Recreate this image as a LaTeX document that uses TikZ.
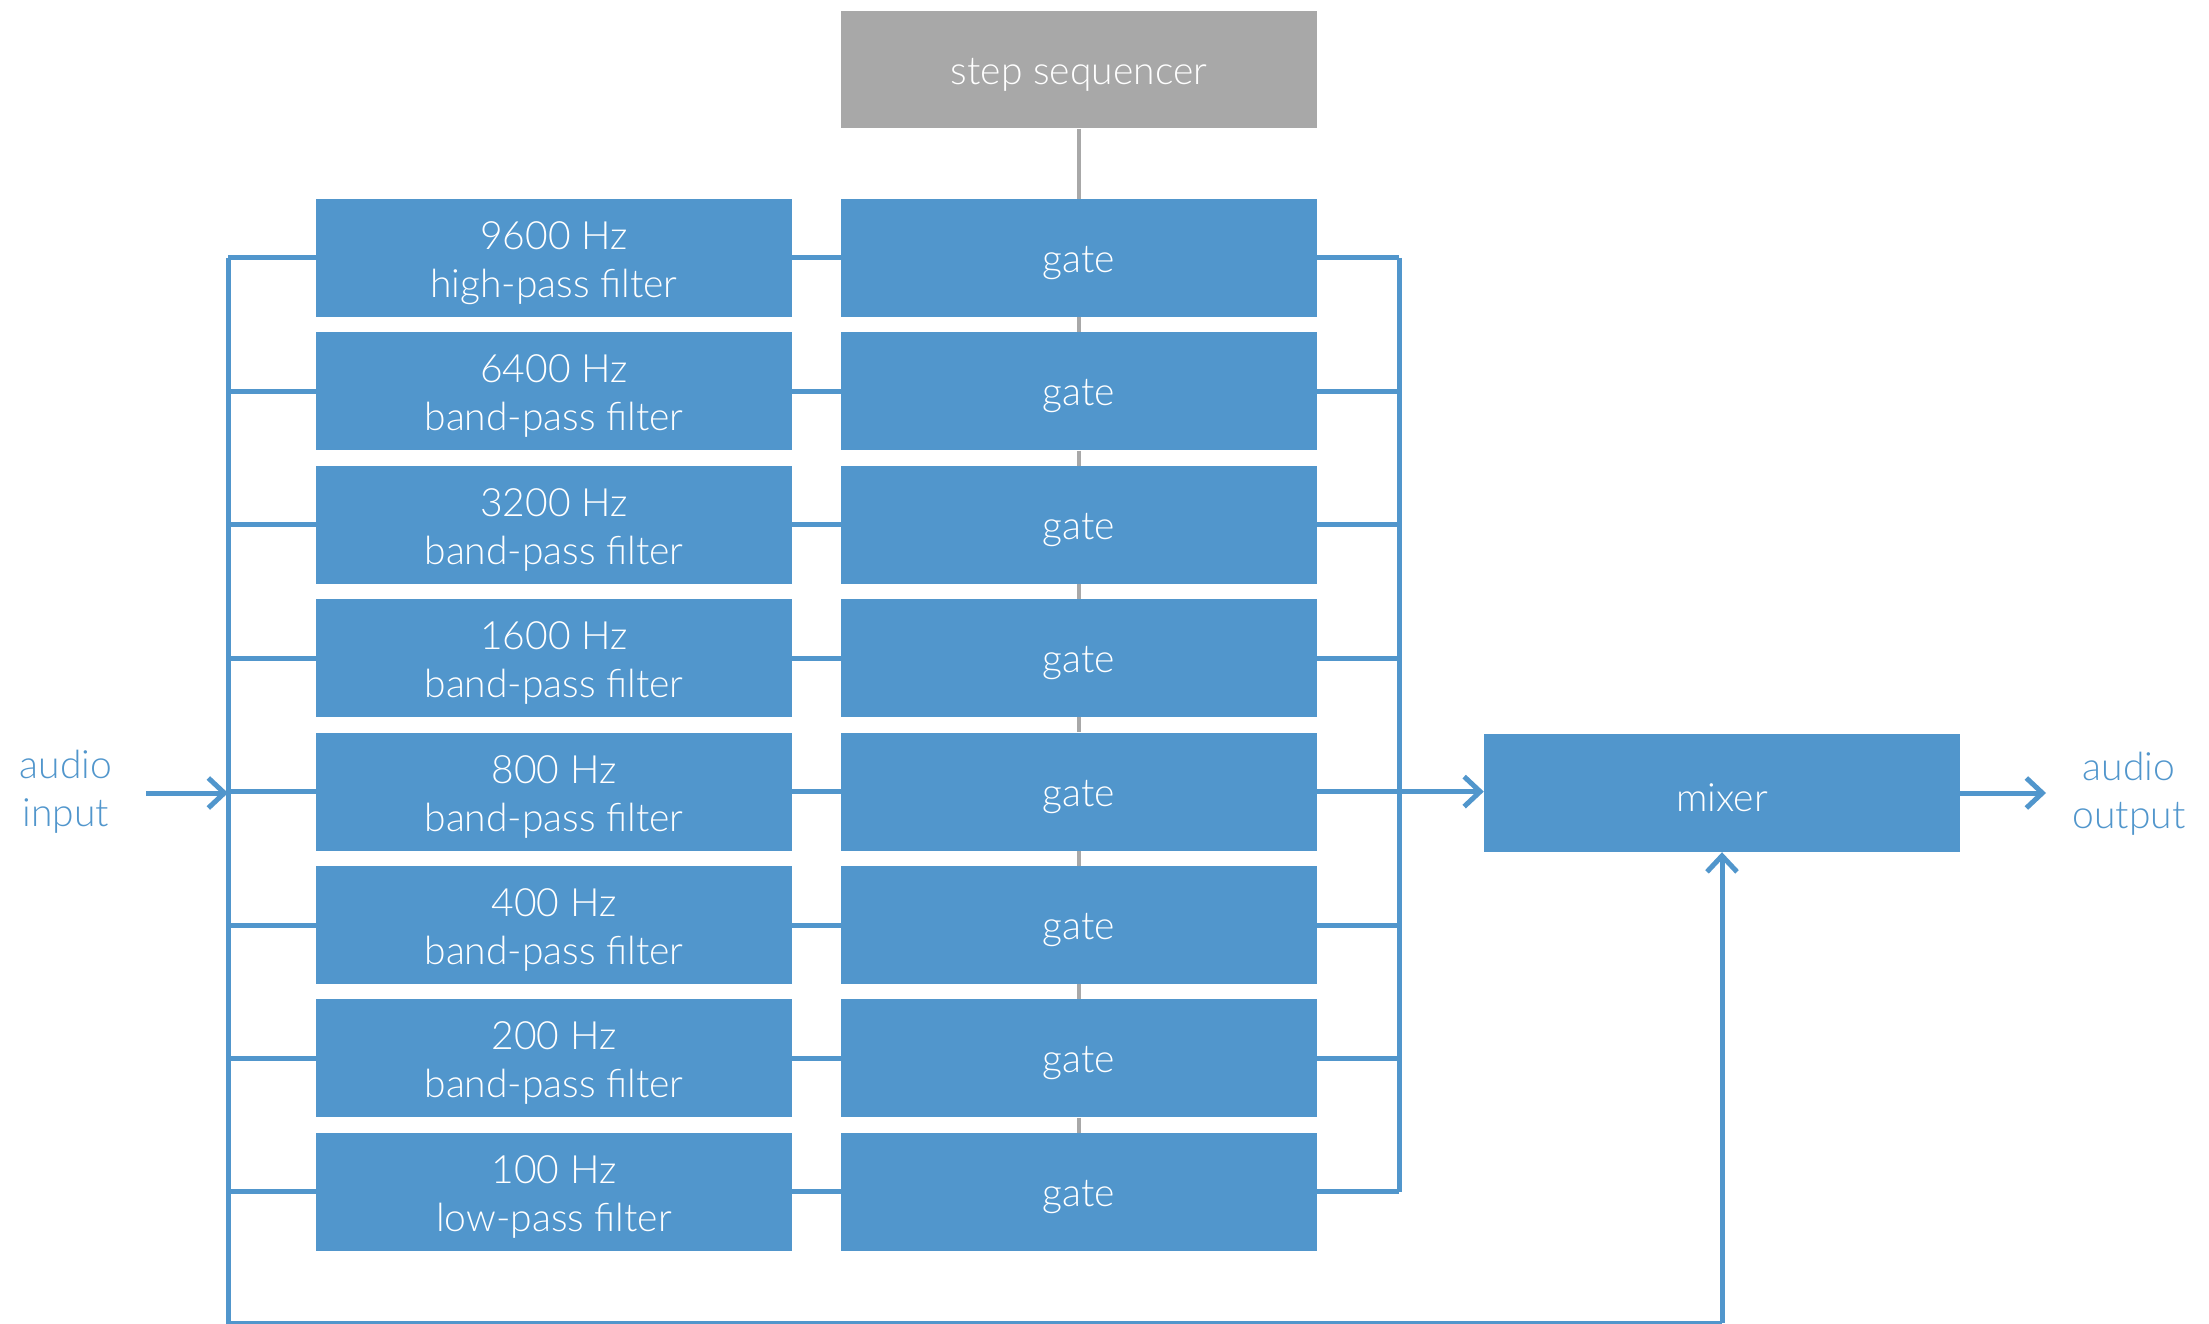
\documentclass[tikz,border=0pt]{standalone}
\usepackage{fontspec}
\setmainfont{Lato Light}
\usetikzlibrary{arrows.meta}
\definecolor{bluebox}{RGB}{81,150,204}
\definecolor{graybox}{RGB}{168,168,168}
\newcommand{\boxfont}{\fontsize{39}{48}\selectfont}
\tikzset{
  box/.style={fill=bluebox, minimum width=476pt, minimum height=118pt, inner sep=0pt},
  seqbox/.style={box, fill=graybox},
  boxtext/.style={text=white, align=center, font=\boxfont, inner sep=0pt},
  wire/.style={draw=bluebox, line width=5pt},
  ctl/.style={draw=graybox, line width=4pt},
  tip/.style={-{Straight Barb[length=16pt,width=30pt,line width=5pt]}},
  lbl/.style={text=bluebox, align=center, font=\boxfont, inner sep=0pt}
}
\begin{document}
\begin{tikzpicture}[x=1pt,y=-1pt]
\useasboundingbox (0,0) rectangle (2209,1324);
% step sequencer
\node[seqbox, minimum height=117pt] (seq) at (1079,70) {};
\node[boxtext] (seqt) at ([yshift=-5pt]seq.center) {step sequencer};
% filters and gates
\foreach \i/\t in {1/{9600 Hz\\high-pass filter},2/{6400 Hz\\band-pass filter},
  3/{3200 Hz\\band-pass filter},4/{1600 Hz\\band-pass filter},5/{800 Hz\\band-pass filter},
  6/{400 Hz\\band-pass filter},7/{200 Hz\\band-pass filter},8/{100 Hz\\low-pass filter}}{
  \node[box] (f\i) at (554,{258+133.4*(\i-1)}) {};
  \node[boxtext] (ft\i) at ([yshift=-5pt]f\i.center) {\t};
  \node[box] (g\i) at (1079,{258+133.4*(\i-1)}) {};
  \node[boxtext] (gt\i) at ([yshift=-5pt]g\i.center) {gate};
}
\node[box] (mixer) at (1722,793) {};
\node[boxtext] (mixert) at ([yshift=-5pt]mixer.center) {mixer};
\node[lbl] (in) at (66,792) {audio\\input};
\node[lbl] (out) at (2129,794) {audio\\output};
% bus coordinates
\coordinate (lt) at (228,258);
\coordinate (lb) at (228,1323);
\coordinate (mb) at (1722,1323);
\coordinate (rt) at (1399,258);
\coordinate (inS) at (146,793);
\coordinate (outE) at (2046,793);
% control line
\draw[ctl] (seq.south) -- (g1.north);
\foreach \i [evaluate=\i as \j using int(\i+1)] in {1,...,7}{
  \draw[ctl] (g\i.south) -- (g\j.north);
}
% wires
\draw[wire] (lt) -- (lb) -- (mb);
\draw[wire,tip] (mb) -- (mixer.south);
\draw[wire] (rt) -- (rt |- g8.east);
\foreach \i in {1,...,8}{
  \draw[wire] (f\i.west) -- (f\i.west -| lt);
  \draw[wire] (f\i.east) -- (g\i.west);
  \draw[wire] (g\i.east) -- (g\i.east -| rt);
}
\draw[wire,tip] (inS) -- (inS -| lt);
\draw[wire,tip] (g5.east) -- (g5.east -| mixer.west);
\draw[wire,tip] (mixer.east) -- (outE);
\end{tikzpicture}
\end{document}
